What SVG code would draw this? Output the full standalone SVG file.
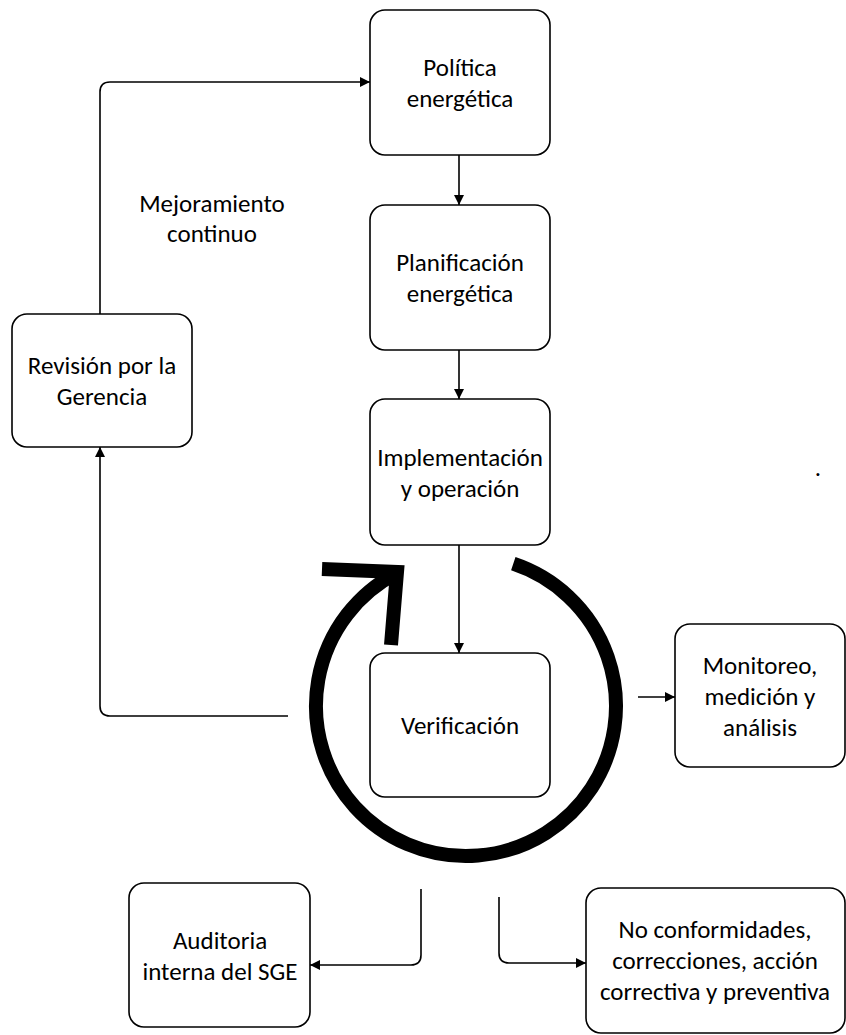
<svg xmlns="http://www.w3.org/2000/svg" width="846" height="1035" viewBox="0 0 846 1035">
<style>
  .box { fill: #ffffff; stroke: #000000; stroke-width: 1.6; }
  .lbl { font-family: Carlito, Lato, "Open Sans", sans-serif; font-size: 25px; fill: #000000; text-anchor: middle; }
  .con { fill: none; stroke: #000000; stroke-width: 1.6; }
  .ring { fill: none; stroke: #000000; stroke-width: 14; }
</style>
<defs>
  <marker id="ah" viewBox="0 0 10 10" refX="10" refY="5" markerWidth="10" markerHeight="10" markerUnits="userSpaceOnUse" orient="auto">
    <path d="M0,0 L10,5 L0,10 Z" fill="#000000"/>
  </marker>
</defs>
<rect width="846" height="1035" fill="#ffffff"/>

<g id="cycle-arrow">
  <path class="ring" d="M 513.3 563.7 A 150 150 0 1 1 396.5 573.1" stroke-linecap="butt"/>
  <polyline class="ring" points="322,569 397,572 391,645" stroke-linejoin="miter" stroke-miterlimit="10"/>
</g>

<g id="connectors">
  <line class="con" x1="459" y1="155" x2="459" y2="205" marker-end="url(#ah)"/>
  <line class="con" x1="459" y1="350" x2="459" y2="399" marker-end="url(#ah)"/>
  <line class="con" x1="459" y1="545" x2="459" y2="653" marker-end="url(#ah)"/>
  <path class="con" d="M 100 314 V 92 Q 100 82 110 82 H 370" marker-end="url(#ah)"/>
  <path class="con" d="M 288 716 H 110 Q 100 716 100 706 V 447" marker-end="url(#ah)"/>
  <line class="con" x1="638" y1="697" x2="675" y2="697" marker-end="url(#ah)"/>
  <path class="con" d="M 421 889 V 955 Q 421 965 411 965 H 310" marker-end="url(#ah)"/>
  <path class="con" d="M 499 897 V 953 Q 499 963 509 963 H 586" marker-end="url(#ah)"/>
</g>

<g id="politica">
  <rect class="box" x="370" y="10" width="180" height="145" rx="15"/>
  <text class="lbl" x="460" y="76">Política</text>
  <text class="lbl" x="460" y="107">energética</text>
</g>
<g id="planificacion">
  <rect class="box" x="370" y="205" width="180" height="145" rx="15"/>
  <text class="lbl" x="460" y="271">Planificación</text>
  <text class="lbl" x="460" y="302">energética</text>
</g>
<g id="implementacion">
  <rect class="box" x="370" y="399" width="180" height="146" rx="15"/>
  <text class="lbl" x="460" y="465.5">Implementación</text>
  <text class="lbl" x="460" y="496.5">y operación</text>
</g>
<g id="verificacion">
  <rect class="box" x="370" y="653" width="180" height="144" rx="15"/>
  <text class="lbl" x="460" y="734">Verificación</text>
</g>
<g id="revision">
  <rect class="box" x="12" y="314" width="180" height="133" rx="15"/>
  <text class="lbl" x="102" y="374">Revisión por la</text>
  <text class="lbl" x="102" y="405">Gerencia</text>
</g>
<g id="mejoramiento">
  <text class="lbl" x="212" y="212">Mejoramiento</text>
  <text class="lbl" x="212" y="242">continuo</text>
</g>
<g id="monitoreo">
  <rect class="box" x="675" y="624" width="170" height="143" rx="15"/>
  <text class="lbl" x="760" y="673.5">Monitoreo,</text>
  <text class="lbl" x="760" y="704.5">medición y</text>
  <text class="lbl" x="760" y="735.5">análisis</text>
</g>
<g id="auditoria">
  <rect class="box" x="129" y="883" width="181" height="144" rx="15"/>
  <text class="lbl" x="220" y="948.5">Auditoria</text>
  <text class="lbl" x="220" y="979.5">interna del SGE</text>
</g>
<g id="noconformidades">
  <rect class="box" x="586" y="888" width="259" height="145" rx="15"/>
  <text class="lbl" x="715" y="938">No conformidades,</text>
  <text class="lbl" x="715" y="969">correcciones, acción</text>
  <text class="lbl" x="715" y="1000">correctiva y preventiva</text>
</g>
<g id="dot">
  <text class="lbl" x="818" y="476">.</text>
</g>
</svg>
